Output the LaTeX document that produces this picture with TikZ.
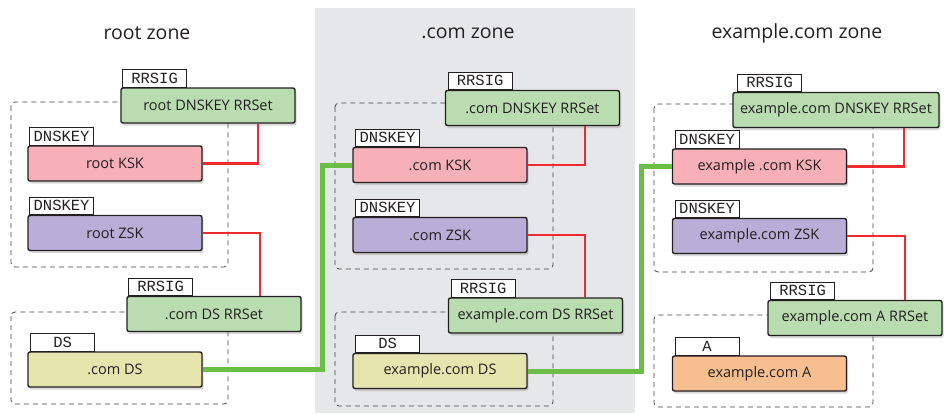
\documentclass[tikz,border=0pt]{standalone}
\usepackage{fontspec}
\setmainfont{Open Sans}
\newfontfamily\tagfont{Liberation Mono}
\usepackage{tikz}
\usetikzlibrary{shadows}
\definecolor{rrgreen}{HTML}{B9DDB1}
\definecolor{kskpink}{HTML}{F7B0B7}
\definecolor{zskpurple}{HTML}{B9AED8}
\definecolor{dsyellow}{HTML}{E7E5AE}
\definecolor{aorange}{HTML}{F7BE90}
\definecolor{zonegray}{HTML}{E6E7E8}
\definecolor{sigred}{HTML}{EE2A2E}
\definecolor{trustgreen}{HTML}{6BBE45}
\definecolor{boxline}{HTML}{231F20}
\tikzstyle{rec} = [rectangle, rounded corners=2pt, minimum width=174pt, minimum height=35pt, inner sep=0pt, text centered, draw=boxline, line width=1.4pt, text=boxline, font=\fontsize{14.5}{17}\selectfont, drop shadow={opacity=0.3, shadow xshift=1.5pt, shadow yshift=-2.5pt}]
\tikzstyle{rrset} = [rec, fill=rrgreen]
\tikzstyle{ksk} = [rec, fill=kskpink]
\tikzstyle{zsk} = [rec, fill=zskpurple]
\tikzstyle{ds} = [rec, fill=dsyellow]
\tikzstyle{arec} = [rec, fill=aorange]
\tikzstyle{tag} = [rectangle, minimum width=64pt, minimum height=17.5pt, inner sep=0pt, draw=boxline, line width=0.6pt, fill=white, anchor=south west, text=boxline, font=\tagfont\fontsize{15.5}{16}\selectfont]
\tikzstyle{sig} = [line width=2.8pt, sigred]
\tikzstyle{trust} = [line width=5pt, trustgreen]
\tikzstyle{group} = [dash pattern=on 5pt off 4pt, line width=0.8pt, draw=black!75, rounded corners=4pt]
\tikzstyle{title} = [font=\fontsize{19.5}{24}\selectfont, text=boxline]

\begin{document}
\begin{tikzpicture}[x=1pt, y=-1pt]
		\useasboundingbox (0,0) rectangle (951,413);
		\fill [zonegray] (315,8) rectangle (635,413);
		
		\node (rootTitle) [title] at (147,33) {root zone};
		\node (comTitle) [title] at (468,33) {.com zone};
		\node (exTitle) [title] at (797,33) {example.com zone};
		
		\draw [group] (11,102) rectangle (228,267);
		\draw [group] (11,312) rectangle (228,404);
		\draw [group] (335,103) rectangle (553,269);
		\draw [group] (335,312) rectangle (553,406);
		\draw [group] (654,104) rectangle (873,272);
		\draw [group] (654,315) rectangle (873,407);
		
		\node (rootRR) [rrset] at (208,105.5) {root DNSKEY RRSet};
		\node (rootKSK) [ksk] at (115,163.5) {root KSK};
		\node (rootZSK) [zsk] at (115,233) {root ZSK};
		\node (comDSRR) [rrset] at (214,314) {.com DS RRSet};
		\node (comDS) [ds] at (115,369.5) {.com DS};
		
		\node (comRR) [rrset] at (532.5,108) {.com DNSKEY RRSet};
		\node (comKSK) [ksk] at (440,165) {.com KSK};
		\node (comZSK) [zsk] at (440,235) {.com ZSK};
		\node (exDSRR) [rrset] at (535.5,315.5) {example.com DS RRSet};
		\node (exDS) [ds] at (440,371) {example.com DS};
		
		\node (exRR) [rrset, minimum width=206pt] at (836,110) {example.com DNSKEY RRSet};
		\node (exKSK) [ksk] at (759.5,166.5) {example .com KSK};
		\node (exZSK) [zsk] at (759.5,236) {example.com ZSK};
		\node (exARR) [rrset] at (855,318) {example.com A RRSet};
		\node (exA) [arec] at (759.5,373.5) {example.com A};
		
		\node (rootRRtag) [tag] at ([xshift=2pt]rootRR.north west) {RRSIG};
		\node (rootKSKtag) [tag] at ([xshift=2pt]rootKSK.north west) {DNSKEY};
		\node (rootZSKtag) [tag] at ([xshift=2pt]rootZSK.north west) {DNSKEY};
		\node (comDSRRtag) [tag] at ([xshift=2pt]comDSRR.north west) {RRSIG};
		\node (comDStag) [tag] at ([xshift=3pt]comDS.north west) {DS};
		\node (comRRtag) [tag] at ([xshift=3pt]comRR.north west) {RRSIG};
		\node (comKSKtag) [tag] at ([xshift=3pt]comKSK.north west) {DNSKEY};
		\node (comZSKtag) [tag] at ([xshift=3pt]comZSK.north west) {DNSKEY};
		\node (exDSRRtag) [tag] at ([xshift=3pt]exDSRR.north west) {RRSIG};
		\node (exDStag) [tag] at ([xshift=3pt]exDS.north west) {DS};
		\node (exRRtag) [tag] at ([xshift=5pt]exRR.north west) {RRSIG};
		\node (exKSKtag) [tag] at ([xshift=3pt]exKSK.north west) {DNSKEY};
		\node (exZSKtag) [tag] at ([xshift=3pt]exZSK.north west) {DNSKEY};
		\node (exARRtag) [tag] at ([xshift=3pt]exARR.north west) {RRSIG};
		\node (exAtag) [tag] at ([xshift=3pt]exA.north west) {A};
		
		\draw [sig] (rootKSK.east) -| ([xshift=50pt]rootRR.south);
		\draw [sig] (rootZSK.east) -| ([xshift=46pt]comDSRR.north);
		\draw [sig] (comKSK.east) -| ([xshift=52.5pt]comRR.south);
		\draw [sig] (comZSK.east) -| ([xshift=49.5pt]exDSRR.north);
		\draw [sig] (exKSK.east) -| ([xshift=68pt]exRR.south);
		\draw [sig] (exZSK.east) -| ([xshift=50pt]exARR.north);
		
		\draw [trust] (comDS.east) -| ([xshift=-30pt]comKSK.west) -- (comKSK.west);
		\draw [trust] (exDS.east) -| ([xshift=-30pt]exKSK.west) -- (exKSK.west);
	\end{tikzpicture}
\end{document}
